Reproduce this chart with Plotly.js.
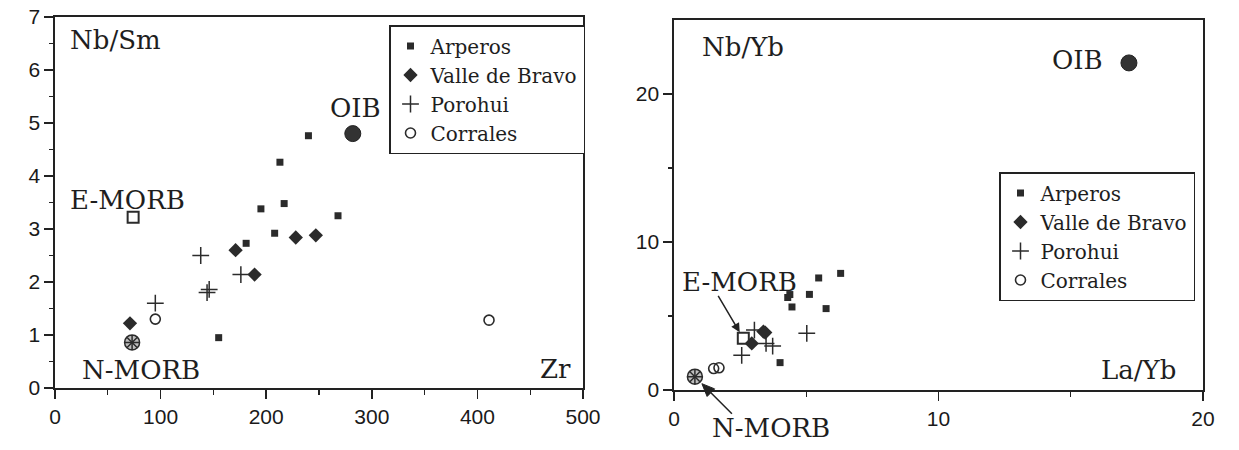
<!DOCTYPE html>
<html><head><meta charset="utf-8">
<script src="https://cdn.plot.ly/plotly-3.0.1.min.js"></script>
<style>html,body{margin:0;padding:0;background:#fff}#chart{width:1239px;height:450px}</style>
</head><body><div id="chart"></div>
<script>
// ---------- data ----------
const seriesNames = ["Arperos", "Valle de Bravo", "Porohui", "Corrales"];
// Left panel: Zr vs Nb/Sm
const arperosZr   = [155, 181, 195, 208, 213, 217, 240, 268];
const arperosNbSm = [0.95, 2.73, 3.38, 2.92, 4.26, 3.48, 4.76, 3.25];
const valleZr     = [71, 171, 189, 228, 247];
const valleNbSm   = [1.22, 2.60, 2.14, 2.84, 2.88];
const porohuiZr   = [95, 138, 144, 146, 176];
const porohuiNbSm = [1.60, 2.50, 1.80, 1.86, 2.14];
const corralesZr  = [95, 411];
const corralesNbSm= [1.30, 1.28];
const refNames    = ["N-MORB", "E-MORB", "OIB"];
const refZr       = [73, 74, 282];
const refNbSm     = [0.86, 3.22, 4.80];
// Right panel: La/Yb vs Nb/Yb
const arperosLaYb = [4.01, 4.30, 4.38, 4.46, 5.12, 5.47, 5.75, 6.30];
const arperosNbYb = [1.85, 6.25, 6.45, 5.61, 6.46, 7.57, 5.50, 7.88];
const valleLaYb   = [2.94, 3.38, 3.45];
const valleNbYb   = [3.15, 3.95, 3.88];
const porohuiLaYb = [2.56, 3.04, 3.48, 3.73, 5.02];
const porohuiNbYb = [2.34, 4.05, 3.15, 2.97, 3.83];
const corralesLaYb= [1.50, 1.70];
const corralesNbYb= [1.45, 1.50];
const refLaYb     = [0.79, 2.62, 17.2];
const refNbYb     = [0.90, 3.49, 22.1];
// tick labels
const leftXTicks  = [0, 100, 200, 300, 400, 500];
const leftYTicks  = [0, 1, 2, 3, 4, 5, 6, 7];
const rightXTicks = [0, 10, 20];
const rightYTicks = [0, 10, 20];

// ---------- styles ----------
const INK = "#2b2b2b";
const SERIF = "DejaVu Serif, Liberation Serif, serif";
const SANS = "Liberation Sans, Arial, sans-serif";
const mk = {
  arp: {symbol: "square", size: 7, color: INK},
  val: {symbol: "diamond", size: 11, color: INK},
  por: {symbol: "cross-thin-open", size: 12, color: INK, line: {color: INK, width: 1.5}},
  cor: {symbol: "circle-open", size: 10, color: INK, line: {color: INK, width: 1.6}}
};

function groupTraces(xs, ys, xa, ya, legendName) {
  const keys = ["arp", "val", "por", "cor"];
  return keys.map((k, i) => ({
    type: "scatter", mode: "markers", name: seriesNames[i],
    x: xs[i], y: ys[i], xaxis: xa, yaxis: ya, legend: legendName,
    marker: mk[k], cliponaxis: false, hoverinfo: "x+y"
  }));
}
function refTraces(xs, ys, xa, ya) {
  return [
    {type: "scatter", mode: "markers", x: [xs[0]], y: [ys[0]], xaxis: xa, yaxis: ya, showlegend: false,
     marker: {symbol: "circle-cross", size: 15, color: "#bdbdbd", line: {color: INK, width: 1.5}}},
    {type: "scatter", mode: "markers", x: [xs[0]], y: [ys[0]], xaxis: xa, yaxis: ya, showlegend: false,
     marker: {symbol: "x-thin-open", size: 10, color: INK, line: {color: INK, width: 1.5}}},
    {type: "scatter", mode: "markers", x: [xs[1]], y: [ys[1]], xaxis: xa, yaxis: ya, showlegend: false,
     marker: {symbol: "square-open", size: 11, color: INK, line: {color: INK, width: 2}}},
    {type: "scatter", mode: "markers", x: [xs[2]], y: [ys[2]], xaxis: xa, yaxis: ya, showlegend: false,
     marker: {symbol: "circle", size: 16, color: "#333", line: {color: "#222", width: 1}}}
  ];
}

const data = [
  ...groupTraces([arperosZr, valleZr, porohuiZr, corralesZr],
                 [arperosNbSm, valleNbSm, porohuiNbSm, corralesNbSm], "x", "y", "legend"),
  ...refTraces(refZr, refNbSm, "x", "y"),
  ...groupTraces([arperosLaYb, valleLaYb, porohuiLaYb, corralesLaYb],
                 [arperosNbYb, valleNbYb, porohuiNbYb, corralesNbYb], "x2", "y2", "legend2"),
  ...refTraces(refLaYb, refNbYb, "x2", "y2")
];

function axis(extra) {
  return Object.assign({
    showline: true, mirror: true, linecolor: "#222", linewidth: 1.6,
    ticks: "outside", ticklen: 9, tickwidth: 1.5, tickcolor: "#222",
    showgrid: false, zeroline: false, tickmode: "array",
    tickfont: {family: SANS, size: 21, color: "#1a1a1a"}, fixedrange: true
  }, extra);
}

const labelFont = {family: SERIF, size: 26, color: "#1e1e1e"};
function lab(text, x, y, xr, yr, xanchor) {
  return {text, x, y, xref: xr, yref: yr, showarrow: false, xanchor: xanchor || "left",
          yanchor: "middle", font: labelFont};
}

const annotations = [
  lab("Nb/Sm", 12.3, 6.57, "x", "y"),
  lab(refNames[1], 12.3, 3.55, "x", "y"),
  lab(refNames[0], 23.7, 0.34, "x", "y"),
  lab(refNames[2], 258.5, 5.28, "x", "y"),
  lab("Zr", 490.5, 0.36, "x", "y", "right"),
  lab("Nb/Yb", 0.98, 23.18, "x2", "y2"),
  lab(refNames[2], 14.2, 22.3, "x2", "y2"),
  lab(refNames[1], 0.23, 7.3, "x2", "y2"),
  lab(refNames[0], 1.36, 1 - 428/450, "x2", "paper"),
  lab("La/Yb", 19.05, 1.35, "x2", "y2", "right"),
  {x: refLaYb[1], y: refNbYb[1], xref: "x2", yref: "y2", text: "", showarrow: true,
   ax: -26, ay: -44, arrowhead: 2, arrowsize: 1.2, arrowwidth: 1.5, arrowcolor: "#222", standoff: 7}
];

// N-MORB pointer on the right panel: paper-referenced shapes (not clipped),
// anchored to the N-MORB point through the right panel's axis mapping
const xDom2 = [674/1239, 1203/1239];
const yDom2 = [1 - 390/450, 1 - 20/450];
const xPx = 1 / 1239, yPx = 1 / 450;        // paper units per pixel
const nX = xDom2[0] + refLaYb[0] / 20 * (xDom2[1] - xDom2[0]);
const nY = yDom2[0] + refNbYb[0] / 25 * (yDom2[1] - yDom2[0]);
const tip  = [nX + 7 * xPx, nY - 7 * yPx];
const tail = [tip[0] + 30 * xPx, tip[1] - 30 * yPx];
const hb = [tip[0] + 9 * xPx, tip[1] - 9 * yPx];             // head base centre
const c1 = [hb[0] + 3.8 * xPx, hb[1] + 3.8 * yPx];
const c2 = [hb[0] - 3.8 * xPx, hb[1] - 3.8 * yPx];
const shapes = [
  {type: "line", xref: "paper", yref: "paper", x0: tail[0], y0: tail[1], x1: hb[0], y1: hb[1],
   line: {color: "#222", width: 1.5}},
  {type: "path", xref: "paper", yref: "paper",
   path: `M${tip[0]},${tip[1]} L${c1[0]},${c1[1]} L${c2[0]},${c2[1]} Z`,
   fillcolor: "#222", line: {color: "#222", width: 1}}
];

const legendStyle = {
  bgcolor: "#fff", bordercolor: "#222", borderwidth: 1.5,
  font: {family: SERIF, size: 20, color: "#1e1e1e"},
  xanchor: "left", yanchor: "top", tracegroupgap: 0, itemclick: false, itemdoubleclick: false
};

const layout = {
  width: 1239, height: 450,
  margin: {l: 0, r: 0, t: 0, b: 0},
  paper_bgcolor: "#fff", plot_bgcolor: "#fff",
  showlegend: true,
  xaxis: axis({domain: [55/1239, 583/1239], range: [0, 500], tickvals: leftXTicks,
               minor: {tickvals: [50,150,250,350,450], ticks: "outside", ticklen: 5, tickwidth: 1.3, tickcolor: "#222"}}),
  yaxis: axis({domain: [1 - 388/450, 1 - 17/450], range: [0, 7], tickvals: leftYTicks,
               minor: {tickvals: [0.5,1.5,2.5,3.5,4.5,5.5,6.5], ticks: "outside", ticklen: 4, tickwidth: 1.3, tickcolor: "#222"}}),
  xaxis2: axis({anchor: "y2", domain: xDom2, range: [0, 20], tickvals: rightXTicks,
               minor: {tickvals: [5, 15], ticks: "outside", ticklen: 5, tickwidth: 1.3, tickcolor: "#222"}}),
  yaxis2: axis({anchor: "x2", domain: yDom2, range: [0, 25], tickvals: rightYTicks,
               minor: {tickvals: [5, 15], ticks: "outside", ticklen: 4, tickwidth: 1.3, tickcolor: "#222"}}),
  legend: Object.assign({x: 389/1239, y: 1 - 25/450}, legendStyle),
  legend2: Object.assign({x: 999/1239, y: 1 - 172/450}, legendStyle),
  annotations,
  shapes
};

Plotly.newPlot("chart", data, layout, {staticPlot: true, displayModeBar: false});
</script>
</body></html>
